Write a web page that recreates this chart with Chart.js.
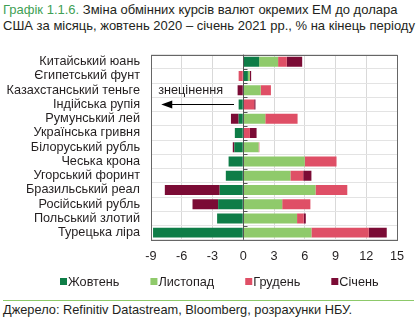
<!DOCTYPE html>
<html>
<head>
<meta charset="utf-8">
<script src="https://cdn.jsdelivr.net/npm/chart.js@4"></script>
<style>
  body { margin: 0; width: 420px; height: 327px; background: #fff; font-family: "Liberation Sans", Arial, sans-serif; color: #231f20; position: relative; overflow: hidden; }
  #title { position: absolute; left: 3px; top: 2px; font-size: 13px; line-height: 16px; white-space: nowrap; }
  #title .num { color: #3f9f55; }
  #wrap { position: absolute; left: 0; top: 36px; width: 420px; height: 258px; }
  #rule { position: absolute; left: 3px; top: 300px; width: 411px; border-top: 1px solid #8dc96a; }
  #source { position: absolute; left: 3px; top: 302px; font-size: 12.8px; white-space: nowrap; }
</style>
</head>
<body>
<div id="title"><span class="num">Графік 1.1.6.</span> Зміна обмінних курсів валют окремих ЕМ до долара<br>США за місяць, жовтень 2020 – січень 2021 рр., % на кінець періоду</div>
<div id="wrap"><canvas id="chart"></canvas></div>
<div id="rule"></div>
<div id="source">Джерело: Refinitiv Datastream, Bloomberg, розрахунки НБУ.</div>
<script>
// категорії (валюти)
const currencies = ['Китайський юань', 'Єгипетський фунт', 'Казахстанський теньге', 'Індійська рупія',
  'Румунський лей', 'Українська гривня', 'Білоруський рубль', 'Чеська крона', 'Угорський форинт',
  'Бразильський реал', 'Російський рубль', 'Польський злотий', 'Турецька ліра'];

// зміна курсу за місяць, %
const october  = [1.55, 0.45, 0, -0.45, -0.45, -0.82, -0.87, -1.43, -1.7, -2.3, -2.45, -2.55, -8.8];
const november = [1.85, 0.2, 1.7, 0, 2.15, 0, 1.5, 6.0, 4.6, 7.05, 3.8, 5.25, 6.65];
const december = [0.85, -0.45, 1.0, 1.07, 3.15, 0.65, 0.07, 3.1, 1.25, 3.1, 2.75, 0.65, 5.6];
const january  = [1.5, 0.12, -0.55, 0.12, -0.75, 0.65, -0.15, 0, 0.8, -5.35, -2.5, 0.2, 1.75];

const seriesNames = ['Жовтень', 'Листопад', 'Грудень', 'Січень'];
const seriesColors = ['#0e7d47', '#8fca6b', '#df4f66', '#7b0b35'];

const xMin = -9, xMax = 15, xStep = 3;

// підпис-стрілка
const arrowLabel = 'знецінення';
const arrowLabelAt = { x: -8.3, row: 2 };
const arrowFrom = { x: -0.9, row: 3 };
const arrowTo = { x: -8.0, row: 3 };

const FONT = '"Liberation Sans", Arial, sans-serif';
const FSIZE = 12.7;

const frame = {
  id: 'frame',
  beforeDatasetsDraw(chart) {
    const { ctx, chartArea: a } = chart;
    ctx.save();
    ctx.strokeStyle = '#666';
    ctx.lineWidth = 1;
    ctx.strokeRect(Math.round(a.left) + 0.5, Math.round(a.top) + 0.5, Math.round(a.right - a.left), Math.round(a.bottom - a.top));
    ctx.restore();
  },
  afterDatasetsDraw(chart) {
    const { ctx, chartArea: a, scales } = chart;
    const x0 = Math.round(scales.x.getPixelForValue(0)) + 0.5;
    ctx.save();
    ctx.strokeStyle = '#555';
    ctx.lineWidth = 1;
    ctx.beginPath();
    ctx.moveTo(x0, a.top);
    ctx.lineTo(x0, a.bottom);
    const n = currencies.length;
    const step = (a.bottom - a.top) / n;
    for (let i = 1; i < n; i++) {
      const y = Math.round(a.top + i * step) + 0.5;
      ctx.moveTo(x0, y);
      ctx.lineTo(x0 + 4, y);
    }
    ctx.stroke();

    // знецінення
    ctx.fillStyle = '#231f20';
    ctx.font = FSIZE + 'px ' + FONT;
    ctx.textAlign = 'left';
    ctx.textBaseline = 'middle';
    ctx.fillText(arrowLabel, scales.x.getPixelForValue(arrowLabelAt.x), scales.y.getPixelForValue(arrowLabelAt.row));
    const ay = Math.round(scales.y.getPixelForValue(arrowFrom.row)) + 0.5;
    const ax1 = scales.x.getPixelForValue(arrowFrom.x);
    const ax2 = scales.x.getPixelForValue(arrowTo.x);
    ctx.strokeStyle = '#000';
    ctx.beginPath();
    ctx.moveTo(ax1, ay);
    ctx.lineTo(ax2 + 8, ay);
    ctx.stroke();
    ctx.fillStyle = '#000';
    ctx.beginPath();
    ctx.moveTo(ax2, ay);
    ctx.lineTo(ax2 + 11, ay - 4);
    ctx.lineTo(ax2 + 11, ay + 4);
    ctx.closePath();
    ctx.fill();
    ctx.restore();
  },
  // легенда внизу
  afterDraw(chart) {
    const { ctx } = chart;
    const y = chart.height - 12;
    let x = 60;
    ctx.save();
    ctx.font = FSIZE + 'px ' + FONT;
    ctx.textAlign = 'left';
    ctx.textBaseline = 'middle';
    chart.data.datasets.forEach(ds => {
      ctx.fillStyle = ds.backgroundColor;
      ctx.fillRect(x, y - 4, 7, 7);
      ctx.fillStyle = '#231f20';
      ctx.fillText(ds.label, x + 8, y);
      x += 8 + ctx.measureText(ds.label).width + 31;
    });
    ctx.restore();
  }
};

const seriesData = [october, november, december, january];

new Chart(document.getElementById('chart'), {
  type: 'bar',
  data: {
    labels: currencies,
    datasets: seriesData.map((d, i) => ({
      label: seriesNames[i],
      data: d,
      backgroundColor: seriesColors[i],
      borderWidth: 0,
      categoryPercentage: 1,
      barPercentage: 0.7
    }))
  },
  options: {
    indexAxis: 'y',
    responsive: true,
    maintainAspectRatio: false,
    animation: false,
    layout: { padding: { left: 0, right: 23, top: 4, bottom: 21 } },
    plugins: {
      legend: { display: false },
      tooltip: { enabled: false }
    },
    scales: {
      x: {
        stacked: true,
        min: xMin,
        max: xMax,
        ticks: {
          stepSize: xStep,
          color: '#231f20',
          padding: 9,
          font: { family: FONT, size: FSIZE }
        },
        grid: { color: '#d9d9d9', drawTicks: false },
        border: { display: false }
      },
      y: {
        stacked: true,
        afterFit(scale) { scale.width = 151; },
        ticks: {
          autoSkip: false,
          color: '#231f20',
          padding: 11,
          font: { family: FONT, size: FSIZE }
        },
        grid: { color: '#e3e3e3', drawTicks: false, offset: true },
        border: { display: false }
      }
    }
  },
  plugins: [frame]
});
</script>
</body>
</html>
